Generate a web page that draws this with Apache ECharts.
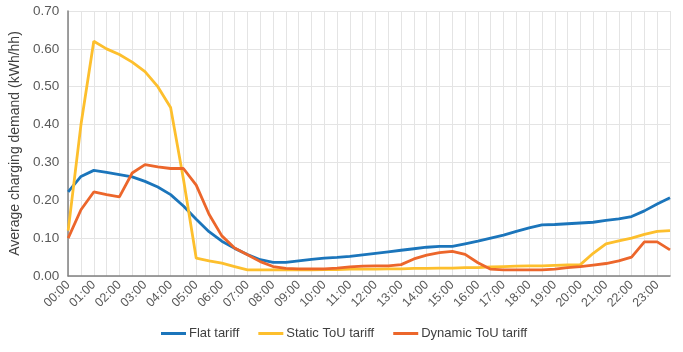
<!DOCTYPE html>
<html>
<head>
<meta charset="utf-8">
<script src="https://cdn.jsdelivr.net/npm/echarts@6/dist/echarts.min.js"></script>
<style>
  html, body { margin: 0; padding: 0; background: #fff; }
  #chart { width: 683px; height: 352px; }
</style>
</head>
<body>
<div id="chart"></div>
<script>
// half-hourly time slots
const times = []
for (let h = 0; h < 24; h++) {
  const hh = (h < 10 ? '0' : '') + h
  times.push(hh + ':00', hh + ':30')
}

const flatTariff = [
  0.222, 0.263, 0.279, 0.274, 0.268, 0.262, 0.250, 0.235, 0.215, 0.185,
  0.150, 0.117, 0.092, 0.073, 0.057, 0.043, 0.036, 0.036, 0.040, 0.044,
  0.047, 0.049, 0.052, 0.056, 0.060, 0.064, 0.068, 0.072, 0.076, 0.078,
  0.078, 0.085, 0.092, 0.100, 0.108, 0.118, 0.127, 0.135, 0.136, 0.138,
  0.140, 0.142, 0.147, 0.151, 0.157, 0.172, 0.190, 0.207
]
const staticTou = [
  0.120, 0.400, 0.620, 0.600, 0.585, 0.565, 0.540, 0.500, 0.445, 0.256,
  0.047, 0.040, 0.034, 0.025, 0.016, 0.016, 0.016, 0.016, 0.016, 0.016,
  0.017, 0.017, 0.018, 0.018, 0.018, 0.019, 0.019, 0.020, 0.020, 0.021,
  0.021, 0.022, 0.022, 0.024, 0.025, 0.026, 0.027, 0.027, 0.028, 0.029,
  0.030, 0.060, 0.085, 0.093, 0.100, 0.110, 0.118, 0.120
]
const dynamicTou = [
  0.100, 0.175, 0.222, 0.215, 0.209, 0.272, 0.294, 0.288, 0.284, 0.284,
  0.240, 0.163, 0.106, 0.074, 0.056, 0.038, 0.025, 0.020, 0.019, 0.019,
  0.019, 0.021, 0.024, 0.026, 0.027, 0.027, 0.030, 0.045, 0.055, 0.062,
  0.065, 0.057, 0.035, 0.018, 0.016, 0.016, 0.016, 0.016, 0.018, 0.022,
  0.025, 0.029, 0.033, 0.040, 0.050, 0.090, 0.090, 0.069
]

const chart = echarts.init(document.getElementById('chart'))
const font = 'Liberation Sans, Arial, sans-serif'

chart.setOption({
  animation: false,
  color: ['#1B75BB', '#FDBF2D', '#EC662B'],
  textStyle: { fontFamily: font },
  grid: { left: 64, right: 13, top: 11, bottom: 76 },
  legend: {
    left: 156,
    bottom: 7,
    icon: 'rect',
    itemWidth: 25,
    itemHeight: 3,
    itemGap: 19,
    textStyle: { fontSize: 13, color: '#404040', padding: [0, 0, 0, -2] },
    data: ['Flat tariff', 'Static ToU tariff', 'Dynamic ToU tariff']
  },
  xAxis: {
    type: 'category',
    boundaryGap: false,
    data: times,
    axisLine: { lineStyle: { color: '#808080', width: 1.5 } },
    axisTick: { show: false },
    axisLabel: {
      interval: 1,
      rotate: 45,
      fontSize: 12.5,
      color: '#595959',
      margin: 7
    },
    splitLine: {
      show: true,
      interval: 0,
      lineStyle: { color: '#E4E4E4', width: 1 }
    }
  },
  yAxis: {
    type: 'value',
    min: 0,
    max: 0.7,
    interval: 0.1,
    name: 'Average charging demand (kWh/hh)',
    nameLocation: 'middle',
    nameGap: 46,
    nameTextStyle: { fontSize: 14, color: '#404040' },
    axisLine: { show: true, lineStyle: { color: '#808080', width: 1.5 } },
    axisTick: { show: false },
    axisLabel: {
      fontSize: 13.5,
      color: '#595959',
      margin: 9,
      formatter: (v) => v.toFixed(2)
    },
    splitLine: { lineStyle: { color: '#E4E4E4', width: 1 } }
  },
  series: [
    {
      name: 'Flat tariff',
      type: 'line',
      data: flatTariff,
      showSymbol: false,
      lineStyle: { width: 2.8 }
    },
    {
      name: 'Static ToU tariff',
      type: 'line',
      data: staticTou,
      showSymbol: false,
      lineStyle: { width: 2.8 }
    },
    {
      name: 'Dynamic ToU tariff',
      type: 'line',
      data: dynamicTou,
      showSymbol: false,
      lineStyle: { width: 2.8 }
    }
  ]
})
</script>
</body>
</html>
